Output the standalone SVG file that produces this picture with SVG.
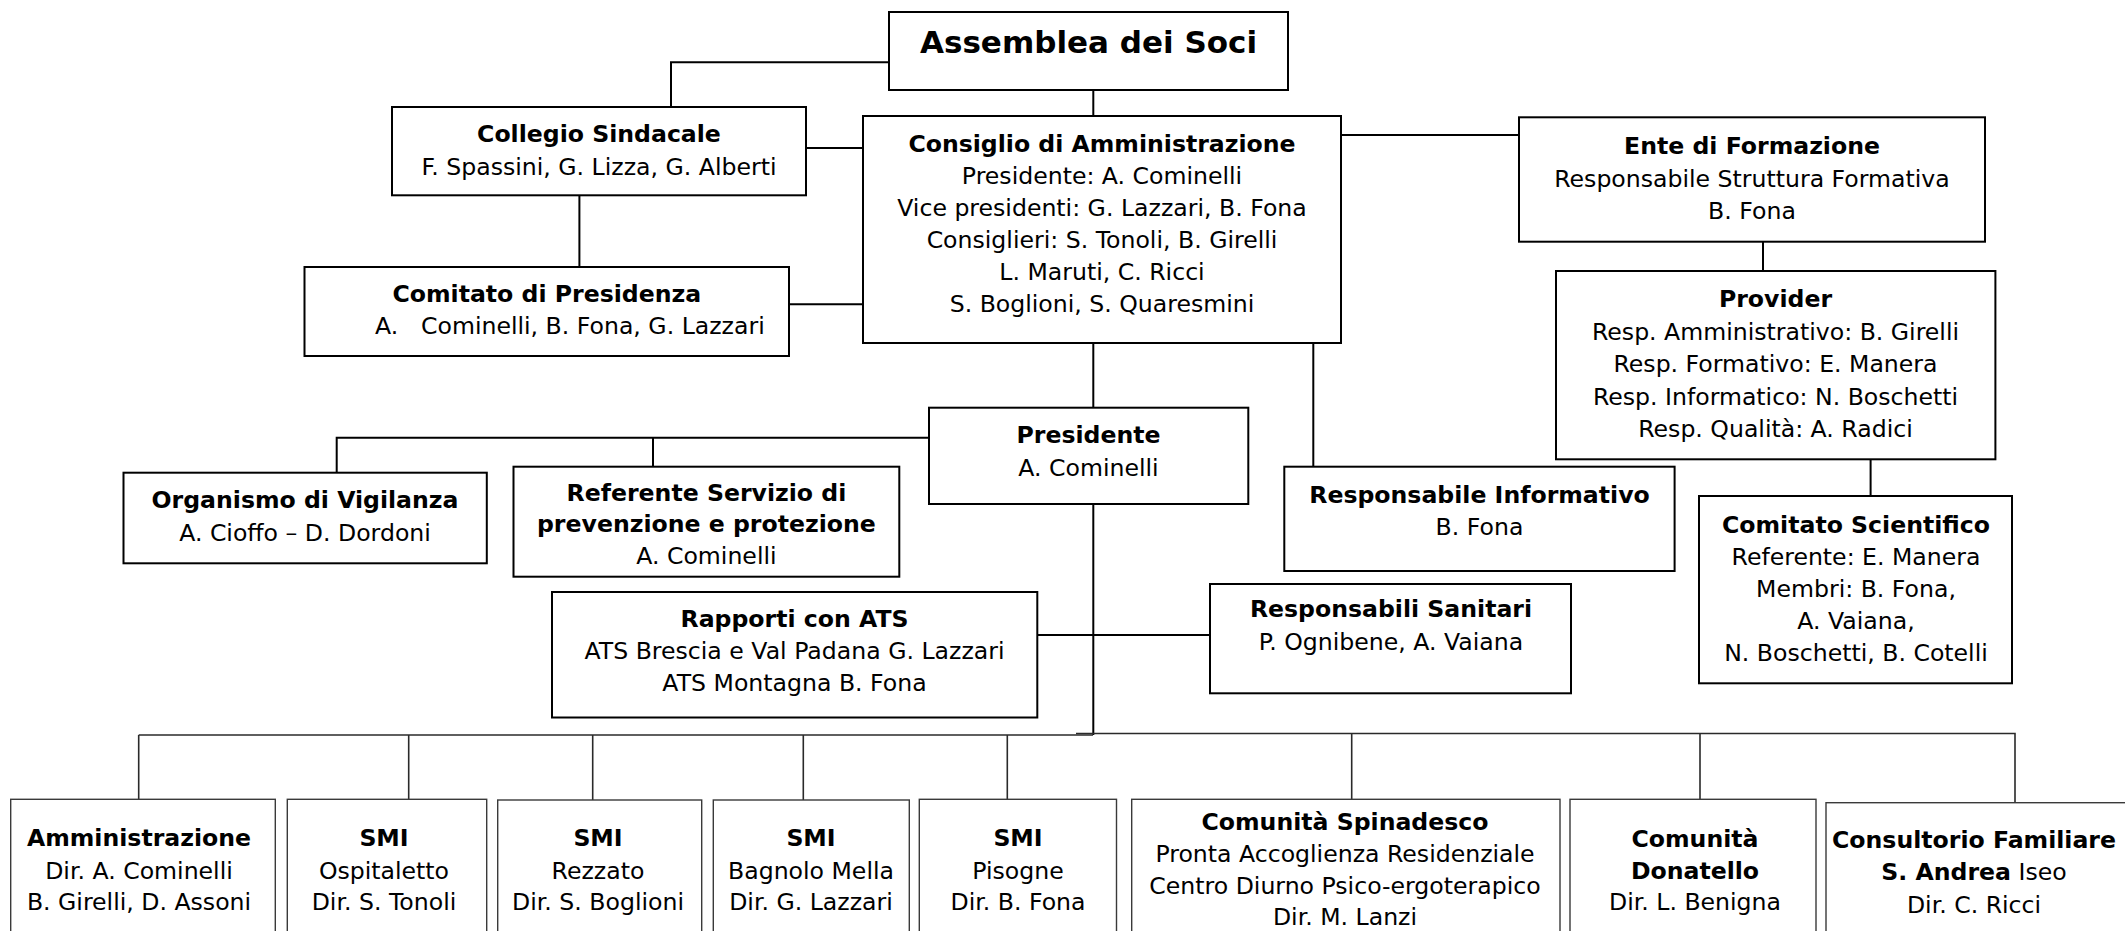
<svg xmlns="http://www.w3.org/2000/svg" width="2125" height="931" viewBox="0 0 2125 931">
<style>
.box{fill:#fff;stroke:#000;stroke-width:2}
.box2{fill:#fff;stroke:#3a3a3a;stroke-width:1.4}
.conn{fill:none;stroke:#000;stroke-width:2}
.conn2{fill:none;stroke:#2a2a2a;stroke-width:1.6}
text{font-family:"DejaVu Sans",Verdana,sans-serif;font-size:23.6px;fill:#000;text-anchor:middle}
.b{font-weight:bold}
.s{text-anchor:start}
</style>
<rect width="2125" height="931" fill="#fff"/>
<g id="connectors">
<path class="conn" d="M889,62.3H671V107"/>
<path class="conn" d="M1093.3,90V116"/>
<path class="conn" d="M806,148H863"/>
<path class="conn" d="M579.4,195.3V267"/>
<path class="conn" d="M789,304.3H863"/>
<path class="conn" d="M1341,135H1519"/>
<path class="conn" d="M1763,241.7V271"/>
<path class="conn" d="M1870.6,459.3V496"/>
<path class="conn" d="M1093.3,343V407.7"/>
<path class="conn" d="M1313.3,343V466.7"/>
<path class="conn" d="M929,437.7H336.7V472.7"/>
<path class="conn" d="M653,437.7V466.7"/>
<path class="conn" d="M1093.3,504V735"/>
<path class="conn" d="M1037.3,635H1210"/>
<path class="conn2" d="M138.7,735H1093"/>
<path class="conn2" d="M1076,733.5H2015V802.7"/>
<path class="conn2" d="M138.7,735V799.3M408.7,735V799.3M592.7,735V800M803.3,735V800M1007.3,735V799.3M1351.7,733.5V799.3M1700,733.5V799.3"/>
</g>
<g id="assemblea">
<rect class="box" x="889" y="12" width="399" height="78"/>
<text class="b" x="1088.5" y="53.3" style="font-size:31px">Assemblea dei Soci</text>
</g>
<g id="collegio">
<rect class="box" x="392" y="107" width="414" height="88.3"/>
<text class="b" x="599" y="141.7">Collegio Sindacale</text>
<text x="599" y="174.5">F. Spassini, G. Lizza, G. Alberti</text>
</g>
<g id="comitato-presidenza">
<rect class="box" x="304.5" y="267" width="484.5" height="89"/>
<text class="b" x="546.8" y="301.7">Comitato di Presidenza</text>
<text class="s" x="375" y="334.3">A.<tspan x="421">Cominelli, B. Fona, G. Lazzari</tspan></text>
</g>
<g id="consiglio">
<rect class="box" x="863" y="116" width="478" height="227"/>
<text class="b" x="1102" y="151.7">Consiglio di Amministrazione</text>
<text x="1102" y="183.7">Presidente: A. Cominelli</text>
<text x="1102" y="215.7">Vice presidenti: G. Lazzari, B. Fona</text>
<text x="1102" y="247.7">Consiglieri: S. Tonoli, B. Girelli</text>
<text x="1102" y="279.7">L. Maruti, C. Ricci</text>
<text x="1102" y="311.7">S. Boglioni, S. Quaresmini</text>
</g>
<g id="ente">
<rect class="box" x="1519" y="117.3" width="466" height="124.4"/>
<text class="b" x="1752" y="154">Ente di Formazione</text>
<text x="1752" y="186.5">Responsabile Struttura Formativa</text>
<text x="1752" y="218.5">B. Fona</text>
</g>
<g id="provider">
<rect class="box" x="1556" y="271" width="439.4" height="188.3"/>
<text class="b" x="1775.5" y="307">Provider</text>
<text x="1775.5" y="339.5">Resp. Amministrativo: B. Girelli</text>
<text x="1775.5" y="372">Resp. Formativo: E. Manera</text>
<text x="1775.5" y="404.5">Resp. Informatico: N. Boschetti</text>
<text x="1775.5" y="437">Resp. Qualità: A. Radici</text>
</g>
<g id="presidente">
<rect class="box" x="929" y="407.7" width="319.3" height="96.3"/>
<text class="b" x="1088.5" y="442.7">Presidente</text>
<text x="1088.5" y="476">A. Cominelli</text>
</g>
<g id="organismo">
<rect class="box" x="123.5" y="472.7" width="363.3" height="90.6"/>
<text class="b" x="305" y="508.3">Organismo di Vigilanza</text>
<text x="305" y="540.5">A. Cioffo – D. Dordoni</text>
</g>
<g id="referente">
<rect class="box" x="513.5" y="466.7" width="385.8" height="110"/>
<text class="b" x="706.4" y="500.5">Referente Servizio di</text>
<text class="b" x="706.4" y="532">prevenzione e protezione</text>
<text x="706.4" y="564">A. Cominelli</text>
</g>
<g id="rapporti-ats">
<rect class="box" x="552" y="592" width="485.3" height="125.5"/>
<text class="b" x="794.5" y="626.7">Rapporti con ATS</text>
<text x="794.5" y="659">ATS Brescia e Val Padana G. Lazzari</text>
<text x="794.5" y="690.7">ATS Montagna B. Fona</text>
</g>
<g id="resp-informativo">
<rect class="box" x="1284.3" y="466.7" width="390.3" height="104.3"/>
<text class="b" x="1479.5" y="502.7">Responsabile Informativo</text>
<text x="1479.5" y="535">B. Fona</text>
</g>
<g id="comitato-scientifico">
<rect class="box" x="1699" y="496" width="313" height="187.3"/>
<text class="b" x="1856" y="533.3">Comitato Scientifico</text>
<text x="1856" y="565.3">Referente: E. Manera</text>
<text x="1856" y="597.3">Membri: B. Fona,</text>
<text x="1856" y="629.3">A. Vaiana,</text>
<text x="1856" y="661.3">N. Boschetti, B. Cotelli</text>
</g>
<g id="resp-sanitari">
<rect class="box" x="1210" y="584" width="361" height="109.3"/>
<text class="b" x="1391" y="617.3">Responsabili Sanitari</text>
<text x="1391" y="650">P. Ognibene, A. Vaiana</text>
</g>
<g id="amministrazione">
<rect class="box2" x="10.7" y="799.3" width="264.6" height="150"/>
<text class="b" x="139" y="846">Amministrazione</text>
<text x="139" y="878.5">Dir. A. Cominelli</text>
<text x="139" y="910">B. Girelli, D. Assoni</text>
</g>
<g id="smi-ospitaletto">
<rect class="box2" x="287.3" y="799.3" width="199.4" height="150"/>
<text class="b" x="384" y="846">SMI</text>
<text x="384" y="878.5">Ospitaletto</text>
<text x="384" y="910">Dir. S. Tonoli</text>
</g>
<g id="smi-rezzato">
<rect class="box2" x="497.7" y="800" width="204" height="150"/>
<text class="b" x="598" y="846">SMI</text>
<text x="598" y="878.5">Rezzato</text>
<text x="598" y="910">Dir. S. Boglioni</text>
</g>
<g id="smi-bagnolo">
<rect class="box2" x="713.3" y="800" width="196" height="150"/>
<text class="b" x="811" y="846">SMI</text>
<text x="811" y="878.5">Bagnolo Mella</text>
<text x="811" y="910">Dir. G. Lazzari</text>
</g>
<g id="smi-pisogne">
<rect class="box2" x="919.3" y="799.3" width="197.2" height="150"/>
<text class="b" x="1018" y="846">SMI</text>
<text x="1018" y="878.5">Pisogne</text>
<text x="1018" y="910">Dir. B. Fona</text>
</g>
<g id="comunita-spinadesco">
<rect class="box2" x="1131.7" y="799.3" width="428.3" height="150"/>
<text class="b" x="1345" y="830">Comunità Spinadesco</text>
<text x="1345" y="862">Pronta Accoglienza Residenziale</text>
<text x="1345" y="894">Centro Diurno Psico-ergoterapico</text>
<text x="1345" y="925">Dir. M. Lanzi</text>
</g>
<g id="comunita-donatello">
<rect class="box2" x="1570" y="799.3" width="246" height="150"/>
<text class="b" x="1695" y="846.7">Comunità</text>
<text class="b" x="1695" y="878.5">Donatello</text>
<text x="1695" y="910">Dir. L. Benigna</text>
</g>
<g id="consultorio">
<rect class="box2" x="1826" y="802.7" width="320" height="150"/>
<text class="b" x="1974" y="848.3">Consultorio Familiare</text>
<text x="1974" y="880"><tspan class="b">S. Andrea</tspan> Iseo</text>
<text x="1974" y="913">Dir. C. Ricci</text>
</g>
</svg>
